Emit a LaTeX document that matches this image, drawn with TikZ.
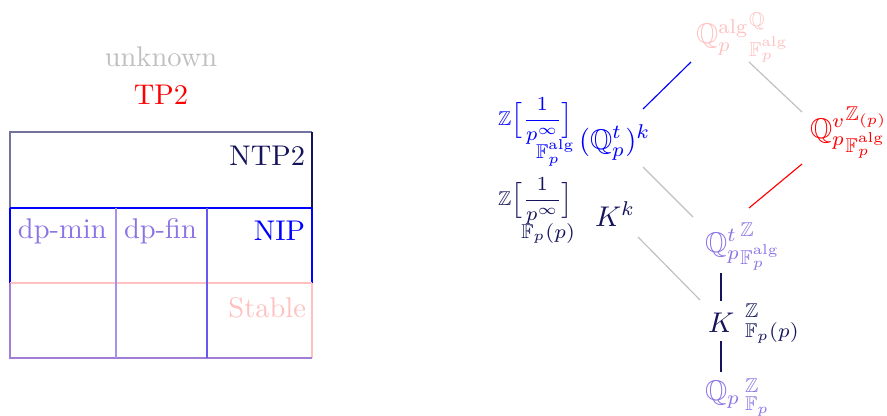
\documentclass[tikz,border=0pt]{standalone}
\usepackage{amsmath,amssymb}
\definecolor{navyc}{RGB}{20,20,90}
\definecolor{pinkc}{RGB}{255,192,192}
\definecolor{purplec}{RGB}{140,115,228}
\definecolor{graynavy}{RGB}{115,115,160}
\definecolor{lpurple}{RGB}{165,145,240}
\definecolor{bpurple}{RGB}{100,90,240}
\definecolor{bpurple2}{RGB}{160,125,215}
\begin{document}
\begin{tikzpicture}[x=0.351pt,y=-0.351pt,
  txt/.style={inner sep=0pt, outer sep=0pt},
  lab/.style={inner sep=0pt, outer sep=0pt, font=\scriptsize},
  link/.style={line width=0.4pt}]
\useasboundingbox (0,0) rectangle (887,415);

% left part
\node[txt, anchor=base, text=lightgray] (unk) at (161,66) {unknown};
\node[txt, anchor=base, text=red] (tp2) at (161,104) {TP2};

\draw[graynavy] (10,208) -- (10,132) -- (312,132);
\draw[navyc] (312,132) -- (312,208);
\draw[blue] (10,208) -- (312,208);
\draw[blue] (10,208) -- (10,283);
\draw[blue] (312,208) -- (312,283);
\draw[pinkc] (10,283) -- (312,283);
\draw[pinkc] (312,283) -- (312,358);
\draw[bpurple2] (10,283) -- (10,358) -- (312,358);
\draw[lpurple] (116,208) -- (116,358);
\draw[bpurple] (207,208) -- (207,358);

\node[txt, anchor=base east, text=navyc] (ntp2) at (305,165) {NTP2};
\node[txt, anchor=base east, text=blue] (nip) at (305,240) {NIP};
\node[txt, anchor=base east, text=pinkc] (stable) at (306,317) {Stable};
\node[txt, anchor=base west, text=purplec] (dpmin) at (18,238) {dp-min};
\node[txt, anchor=base west, text=purplec] (dpfin) at (124,238) {dp-fin};

% right part
\node[txt, anchor=base west, text=pinkc] (T) at (696,44) {${\mathbb{Q}_p^{\mathrm{alg}}}^{\mathbb{Q}}_{\mathbb{F}_p^{\mathrm{alg}}}$};
\node[txt, anchor=base west, text=red] (R) at (810,138) {${\mathbb{Q}_p^{v}}^{\mathbb{Z}_{(p)}}_{\mathbb{F}_p^{\mathrm{alg}}}$};
\node[txt, anchor=base west, text=blue] (B) at (579,149) {$(\mathbb{Q}_p^t)^k$};
\node[lab, anchor=base east, text=blue] (Bv) at (573,125) {$\mathbb{Z}\Big[\dfrac{1}{p^\infty}\Big]$};
\node[lab, anchor=base east, text=blue] (Br) at (575,158) {$\mathbb{F}_p^{\mathrm{alg}}$};
\node[txt, anchor=base west, text=navyc] (Kk) at (595,226) {$K^k$};
\node[lab, anchor=base east, text=navyc] (Kkv) at (573,205) {$\mathbb{Z}\Big[\dfrac{1}{p^\infty}\Big]$};
\node[lab, anchor=base east, text=navyc] (Kkr) at (575,238) {$\mathbb{F}_p(p)$};
\node[txt, anchor=base west, text=purplec] (P) at (705,252) {${\mathbb{Q}_p^{t}}^{\mathbb{Z}}_{\mathbb{F}_p^{\mathrm{alg}}}$};
\node[txt, anchor=base west, text=navyc] (K) at (708,332) {$K$};
\node[txt, anchor=base west, text=navyc] (Kl) at (745,328) {${}^{\mathbb{Z}}_{\mathbb{F}_p(p)}$};
\node[txt, anchor=base west, text=purplec] (Q) at (705,400) {$\mathbb{Q}_p$};
\node[txt, anchor=base west, text=purplec] (Ql) at (745,403) {${}^{\mathbb{Z}}_{\mathbb{F}_p}$};

\draw[link, blue] ([shift={(-5,18)}]T.base west) -- ([shift={(64,-40)}]B.base west);
\draw[link, lightgray] ([shift={(53,18)}]T.base west) -- ([shift={(-8,-26)}]R.base west);
\draw[link, lightgray] ([shift={(64,18)}]B.base west) -- ([shift={(-12,-35)}]P.base west);
\draw[link, red] ([shift={(-8,26)}]R.base west) -- ([shift={(44,-44)}]P.base west);
\draw[link, lightgray] ([shift={(43,11)}]Kk.base west) -- ([shift={(-8,-32)}]K.base west);
\draw[link, navyc] ([shift={(16,21)}]P.base west) -- ([shift={(13,-31)}]K.base west);
\draw[link, navyc] ([shift={(13,9)}]K.base west) -- ([shift={(16,-28)}]Q.base west);
\end{tikzpicture}
\end{document}
